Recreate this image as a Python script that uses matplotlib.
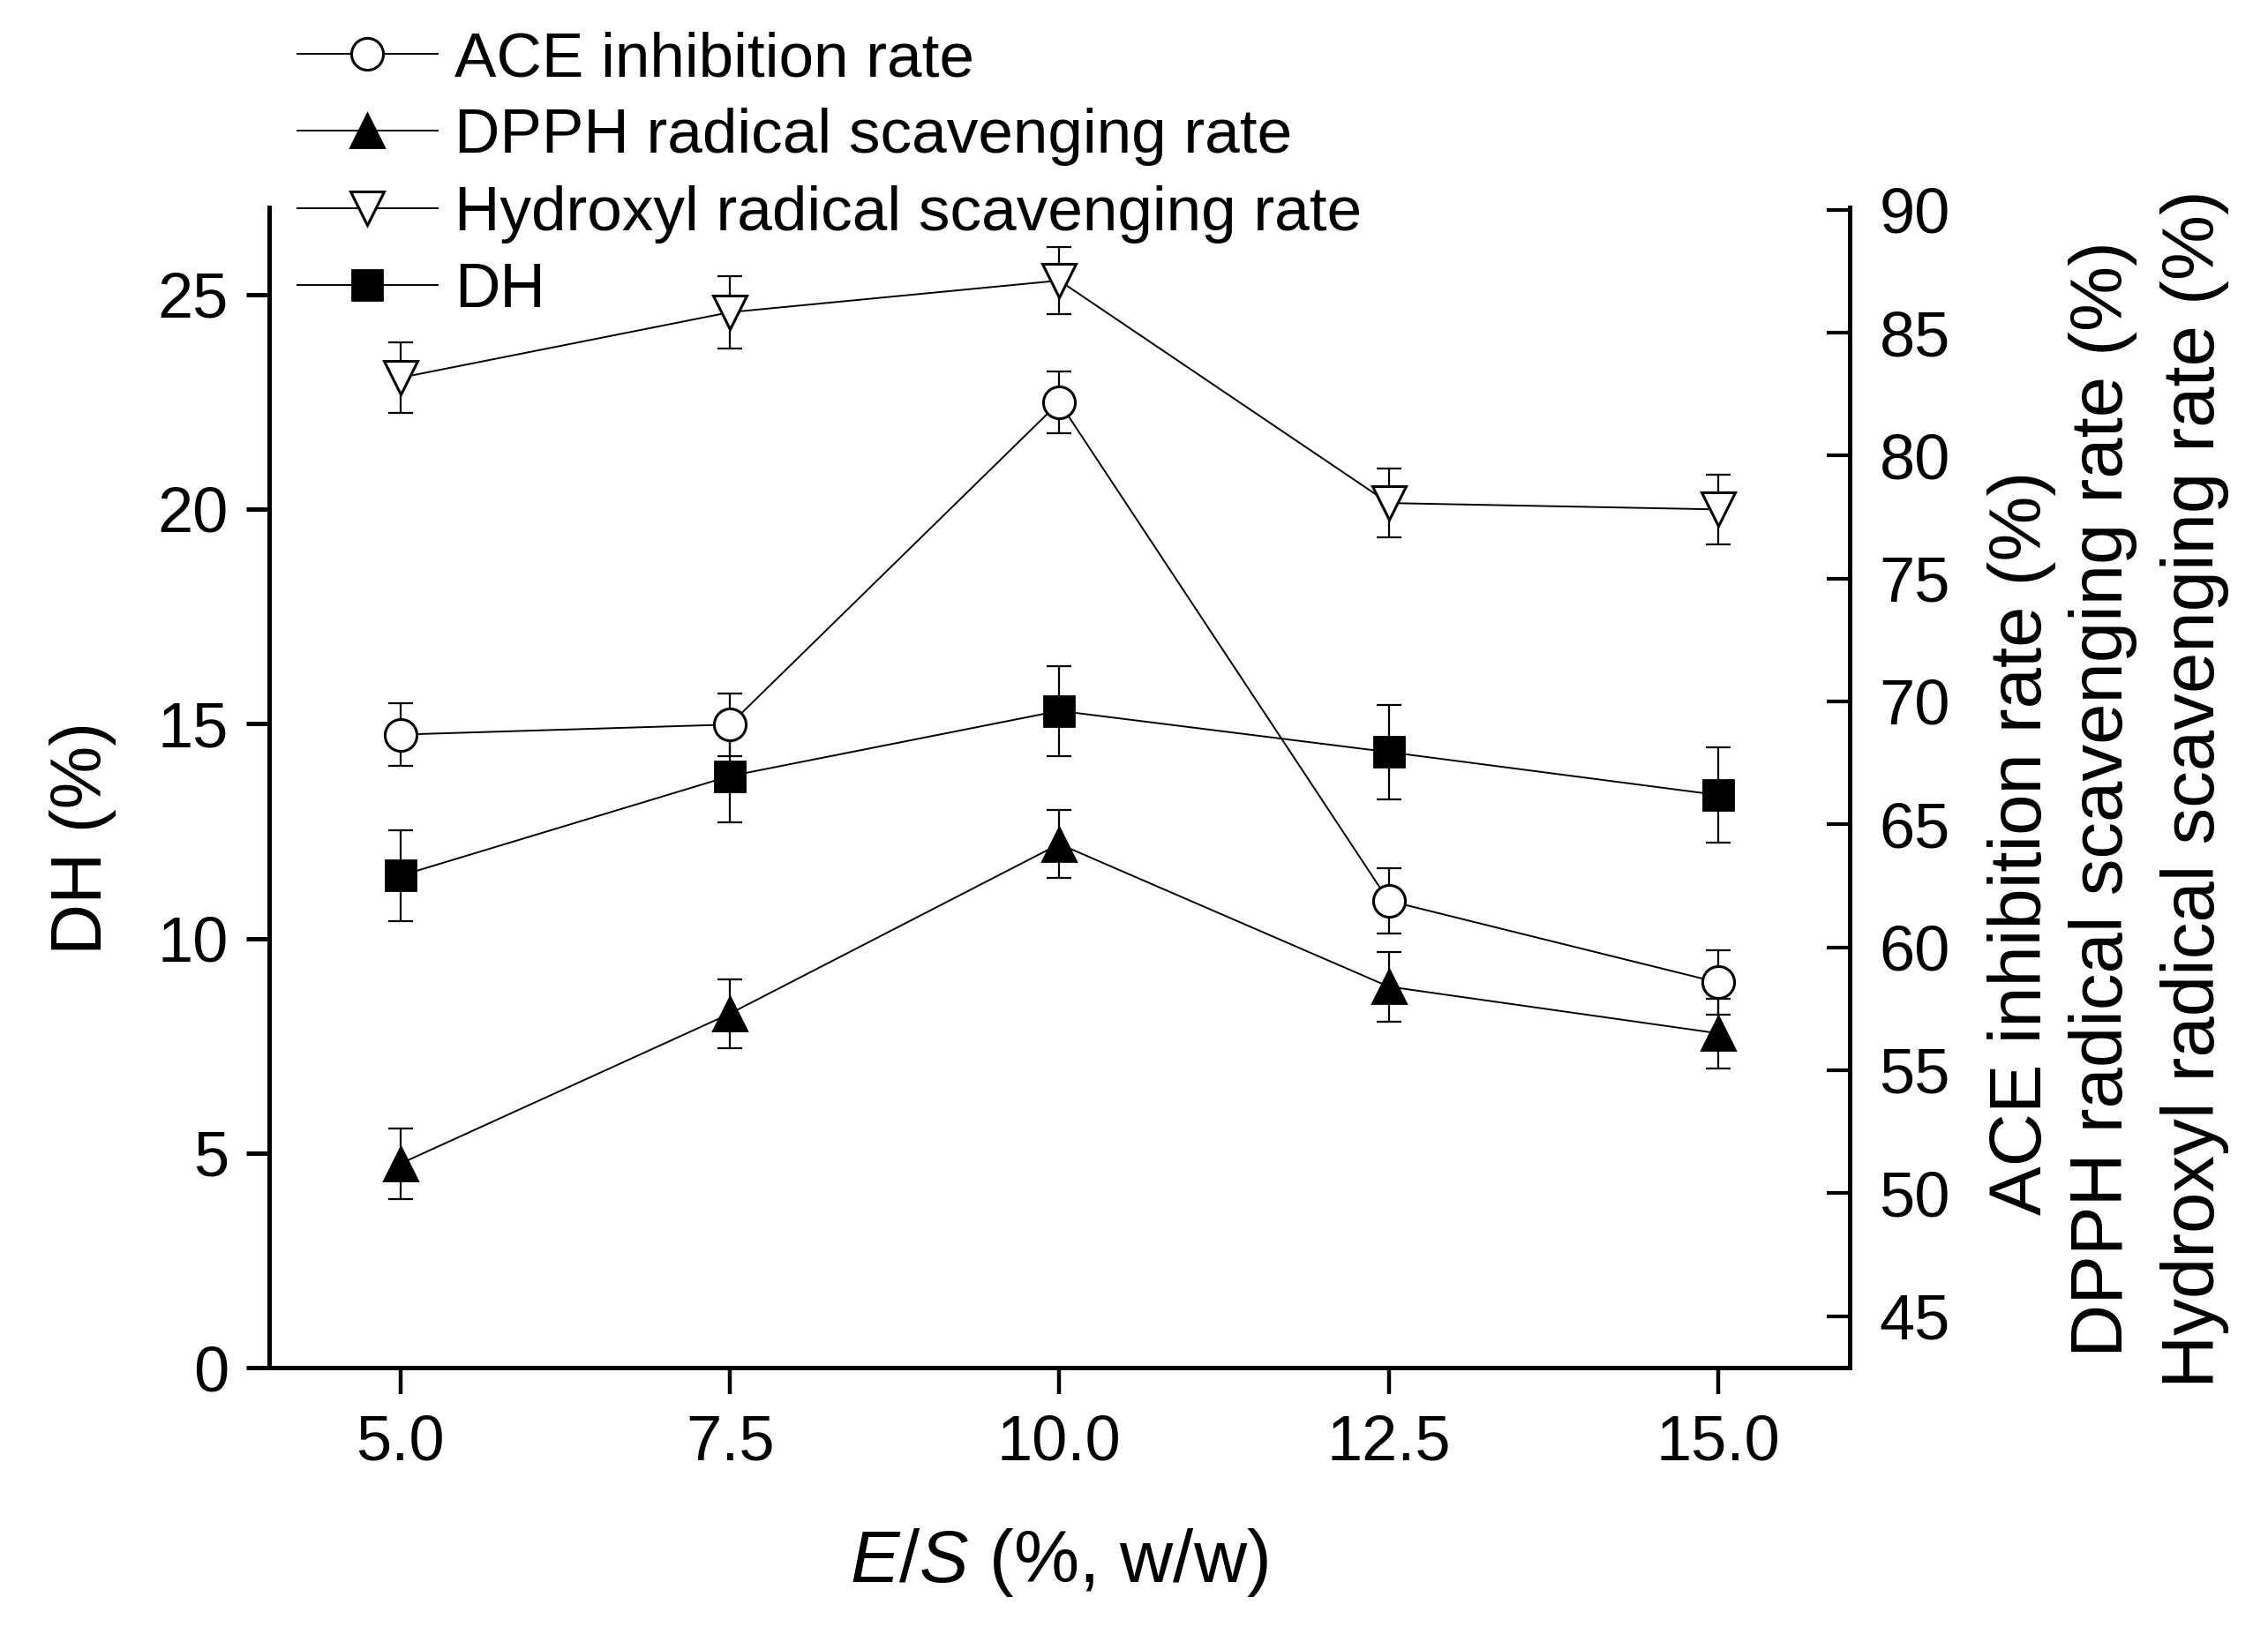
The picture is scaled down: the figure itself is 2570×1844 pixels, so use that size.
import matplotlib
matplotlib.use("Agg")
import matplotlib.pyplot as plt

plt.rcParams['font.family'] = ['Liberation Sans', 'DejaVu Sans']
plt.rcParams['mathtext.fontset'] = 'custom'
plt.rcParams['mathtext.it'] = 'Liberation Sans:italic'
plt.rcParams['mathtext.rm'] = 'Liberation Sans'

# E/S ratio (%, w/w)
es = [5.0, 7.5, 10.0, 12.5, 15.0]
x_ticks = [5.0, 7.5, 10.0, 12.5, 15.0]
x_labels = ['5.0', '7.5', '10.0', '12.5', '15.0']

# right axis series (%)
ace = [68.65, 69.06, 82.17, 61.89, 58.57]
ace_err = [1.27, 1.27, 1.25, 1.33, 1.3]
dpph = [51.2, 57.3, 64.2, 58.4, 56.5]
dpph_err = [1.43, 1.4, 1.37, 1.42, 1.42]
hydroxyl = [83.17, 85.83, 87.12, 78.07, 77.81]
hydroxyl_err = [1.42, 1.47, 1.37, 1.4, 1.42]

# left axis series (%)
dh = [11.46, 13.78, 15.30, 14.34, 13.34]
dh_err = [1.06, 1.08, 1.05, 1.1, 1.1]

left_ticks = [0, 5, 10, 15, 20, 25]
right_ticks = [45, 50, 55, 60, 65, 70, 75, 80, 85, 90]

fig = plt.figure(figsize=(12.85, 9.22), dpi=200)
ax = fig.add_axes([0.1185, 0.1594, 0.8156 - 0.1185, 0.8726 - 0.1594])
ax2 = ax.twinx()

lw = 0.7
err_kw = dict(fmt='none', ecolor='black', elinewidth=0.8, capsize=5, capthick=0.8, zorder=2)

# DH on left axis
ax.errorbar(es, dh, yerr=dh_err, **err_kw)
l_dh, = ax.plot(es, dh, color='black', lw=lw, marker='s', ms=12,
                mfc='black', mec='black', zorder=3, label='DH')

# the three rates on right axis
ax2.errorbar(es, ace, yerr=ace_err, **err_kw)
ax2.errorbar(es, dpph, yerr=dpph_err, **err_kw)
ax2.errorbar(es, hydroxyl, yerr=hydroxyl_err, **err_kw)
l_ace, = ax2.plot(es, ace, color='black', lw=lw, marker='o', ms=13,
                  mfc='white', mec='black', mew=1.1, zorder=3,
                  label='ACE inhibition rate')
l_dpph, = ax2.plot(es, dpph, color='black', lw=lw, marker='^', ms=14,
                   mfc='black', mec='black', zorder=3,
                   label='DPPH radical scavenging rate')
l_hyd, = ax2.plot(es, hydroxyl, color='black', lw=lw, marker='v', ms=14,
                  mfc='white', mec='black', mew=1.1, zorder=3,
                  label='Hydroxyl radical scavenging rate')

# axes limits and ticks
ax.set_xlim(4, 16)
ax.set_ylim(0, 27.03)
ax2.set_ylim(42.9, 90.1)
ax.set_xticks(x_ticks)
ax.set_xticklabels(x_labels)
ax.set_yticks(left_ticks)
ax2.set_yticks(right_ticks)

for a in (ax, ax2):
    a.spines['top'].set_visible(False)
    for s in ('left', 'right', 'bottom'):
        a.spines[s].set_linewidth(1.8)

ax.tick_params(axis='x', direction='out', length=10.8, width=1.6, pad=8, labelsize=26)
ax.tick_params(axis='y', direction='out', length=9.4, width=1.8, pad=7, labelsize=26,
               right=False)
ax2.tick_params(axis='y', direction='in', length=9.5, width=1.5, pad=12, labelsize=26,
                left=False)

# axis titles
ax.set_xlabel(r'$\mathit{E/S}$ (%, w/w)', fontsize=30)
ax.xaxis.set_label_coords(0.5, (0.0394 - 0.1594) / (0.8726 - 0.1594))
ax.xaxis.label.set_va('center')
ax.set_ylabel('DH (%)', fontsize=29)
ax.yaxis.set_label_coords((0.0365 - 0.1185) / (0.8156 - 0.1185),
                          (0.4848 - 0.1594) / (0.8726 - 0.1594))
ax.yaxis.label.set_va('center')

fig.text(0.8914, 0.482, 'ACE inhibition rate (%)', rotation=90, fontsize=30,
         ha='center', va='center')
fig.text(0.9274, 0.5087, 'DPPH radical scavenging rate (%)', rotation=90, fontsize=30,
         ha='center', va='center')
fig.text(0.9677, 0.5151, 'Hydroxyl radical scavenging rate (%)', rotation=90, fontsize=30,
         ha='center', va='center')

fig.legend(handles=[l_ace, l_dpph, l_hyd, l_dh], loc='upper left',
           bbox_to_anchor=(0.1311, 0.981), frameon=False, fontsize=25.6,
           borderpad=0, borderaxespad=0, handlelength=2.23, handletextpad=0.28,
           labelspacing=0.3)

fig.savefig('out.png', dpi=200)
